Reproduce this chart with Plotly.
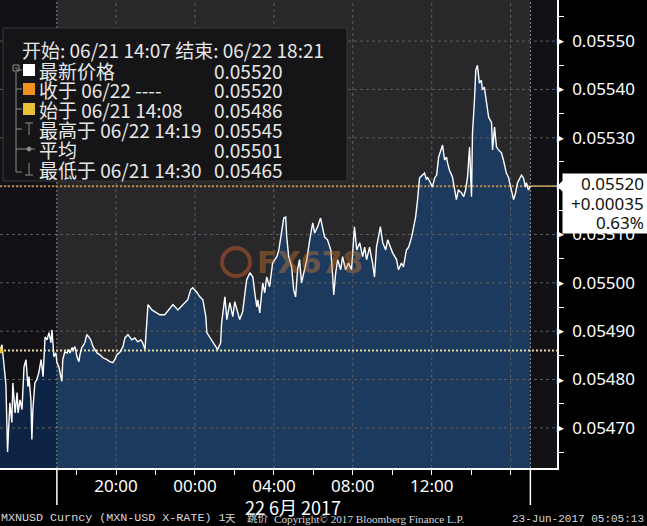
import plotly.graph_objects as go

# ---------------- data ----------------
times = [
"06-21 14:07","06-21 14:13","06-21 14:19","06-21 14:25","06-21 14:30","06-21 14:37","06-21 14:43","06-21 14:46",
"06-21 14:53","06-21 14:59","06-21 15:02","06-21 15:08","06-21 15:14","06-21 15:20","06-21 15:26","06-21 15:32",
"06-21 15:35","06-21 15:41","06-21 15:44","06-21 15:47","06-21 15:53","06-21 15:59","06-21 16:05","06-21 16:12",
"06-21 16:18","06-21 16:21","06-21 16:24","06-21 16:30","06-21 16:36","06-21 16:42","06-21 16:45","06-21 16:48",
"06-21 16:51","06-21 16:57","06-21 17:00","06-21 17:06","06-21 17:12","06-21 17:15","06-21 17:18","06-21 17:24",
"06-21 17:31","06-21 17:34","06-21 17:40","06-21 17:46","06-21 17:49","06-21 17:55","06-21 18:01","06-21 18:07",
"06-21 18:10","06-21 18:16","06-21 18:25","06-21 18:31","06-21 18:37","06-21 18:43","06-21 18:50","06-21 19:02",
"06-21 19:11","06-21 19:20","06-21 19:32","06-21 19:41","06-21 19:50","06-21 19:56","06-21 20:02","06-21 20:12",
"06-21 20:21","06-21 20:27","06-21 20:36","06-21 20:48","06-21 20:57","06-21 21:06","06-21 21:15","06-21 21:21",
"06-21 21:28","06-21 21:34","06-21 21:37","06-21 21:49","06-21 21:58","06-21 22:13","06-21 22:28","06-21 22:43",
"06-21 22:53","06-21 23:08","06-21 23:23","06-21 23:38","06-21 23:47","06-21 23:53","06-22 00:05","06-22 00:15",
"06-22 00:24","06-22 00:33","06-22 00:36","06-22 00:45","06-22 00:54","06-22 01:03","06-22 01:09","06-22 01:18",
"06-22 01:21","06-22 01:31","06-22 01:37","06-22 01:46","06-22 01:55","06-22 02:01","06-22 02:07","06-22 02:16",
"06-22 02:25","06-22 02:31","06-22 02:37","06-22 02:47","06-22 02:56","06-22 03:02","06-22 03:08","06-22 03:11",
"06-22 03:17","06-22 03:26","06-22 03:32","06-22 03:38","06-22 03:47","06-22 03:56","06-22 04:09","06-22 04:15",
"06-22 04:24","06-22 04:30","06-22 04:36","06-22 04:39","06-22 04:45","06-22 04:54","06-22 05:00","06-22 05:06",
"06-22 05:12","06-22 05:18","06-22 05:24","06-22 05:34","06-22 05:40","06-22 05:49","06-22 05:58","06-22 06:04",
"06-22 06:13","06-22 06:22","06-22 06:28","06-22 06:34","06-22 06:43","06-22 06:53","06-22 06:59","06-22 07:02",
"06-22 07:08","06-22 07:14","06-22 07:23","06-22 07:29","06-22 07:38","06-22 07:47","06-22 07:56","06-22 08:02",
"06-22 08:05","06-22 08:12","06-22 08:21","06-22 08:30","06-22 08:36","06-22 08:42","06-22 08:51","06-22 09:00",
"06-22 09:06","06-22 09:12","06-22 09:24","06-22 09:31","06-22 09:40","06-22 09:46","06-22 09:55","06-22 10:01",
"06-22 10:13","06-22 10:19","06-22 10:28","06-22 10:34","06-22 10:43","06-22 10:50","06-22 10:59","06-22 11:05",
"06-22 11:11","06-22 11:17","06-22 11:20","06-22 11:23","06-22 11:32","06-22 11:38","06-22 11:44","06-22 11:47",
"06-22 11:56","06-22 12:02","06-22 12:09","06-22 12:15","06-22 12:21","06-22 12:30","06-22 12:33","06-22 12:39",
"06-22 12:45","06-22 12:48","06-22 12:54","06-22 13:03","06-22 13:09","06-22 13:15","06-22 13:21","06-22 13:31",
"06-22 13:37","06-22 13:43","06-22 13:49","06-22 13:55","06-22 14:01","06-22 14:04","06-22 14:10","06-22 14:14",
"06-22 14:19","06-22 14:25","06-22 14:31","06-22 14:34","06-22 14:40","06-22 14:47","06-22 14:53","06-22 15:02",
"06-22 15:05","06-22 15:11","06-22 15:17","06-22 15:23","06-22 15:32","06-22 15:38","06-22 15:47","06-22 15:53",
"06-22 16:02","06-22 16:09","06-22 16:15","06-22 16:21","06-22 16:33","06-22 16:39","06-22 16:45","06-22 16:48",
"06-22 16:54","06-22 17:00",
]
prices = [
0.054860,0.054872,0.054831,0.054789,0.054650,0.054752,0.054711,0.054793,
0.054731,0.054773,0.054731,0.054758,0.054738,0.054826,0.054841,0.054785,
0.054806,0.054758,0.054676,0.054738,0.054793,0.054800,0.054814,0.054841,
0.054806,0.054855,0.054888,0.054882,0.054897,0.054876,0.054903,0.054876,
0.054847,0.054855,0.054835,0.054826,0.054806,0.054796,0.054841,0.054857,
0.054855,0.054862,0.054855,0.054866,0.054862,0.054868,0.054847,0.054837,
0.054851,0.054866,0.054876,0.054893,0.054888,0.054882,0.054868,0.054855,
0.054851,0.054845,0.054841,0.054837,0.054835,0.054841,0.054851,0.054857,
0.054868,0.054886,0.054893,0.054882,0.054886,0.054878,0.054882,0.054876,
0.054862,0.054938,0.054955,0.054944,0.054940,0.054934,0.054934,0.054948,
0.054955,0.054944,0.054955,0.054965,0.054986,0.054990,0.054981,0.054971,
0.054965,0.054930,0.054897,0.054888,0.054878,0.054868,0.054862,0.054876,
0.054917,0.054971,0.054924,0.054959,0.054930,0.054961,0.054948,0.054924,
0.054940,0.054971,0.055006,0.055021,0.055012,0.054979,0.054950,0.054965,
0.054938,0.055000,0.054979,0.055012,0.054992,0.055041,0.055054,0.055068,
0.055110,0.055134,0.055136,0.055095,0.055054,0.055033,0.054986,0.054971,
0.055027,0.055048,0.055000,0.055027,0.055048,0.055089,0.055124,0.055103,
0.055116,0.055134,0.055116,0.055095,0.055089,0.055068,0.055012,0.054975,
0.055021,0.055048,0.055027,0.055054,0.055027,0.055041,0.055027,0.055083,
0.055116,0.055068,0.055083,0.055054,0.055074,0.055048,0.055074,0.055041,
0.055012,0.055074,0.055116,0.055083,0.055068,0.055089,0.055074,0.055062,
0.055048,0.055027,0.055041,0.055033,0.055068,0.055074,0.055095,0.055116,
0.055136,0.055172,0.055207,0.055217,0.055223,0.055227,0.055213,0.055219,
0.055207,0.055198,0.055217,0.055223,0.055260,0.055279,0.055285,0.055254,
0.055260,0.055248,0.055233,0.055219,0.055198,0.055172,0.055192,0.055186,
0.055178,0.055192,0.055219,0.055281,0.055178,0.055310,0.055378,0.055440,
0.055450,0.055413,0.055419,0.055399,0.055405,0.055372,0.055343,0.055331,
0.055275,0.055322,0.055281,0.055275,0.055269,0.055254,0.055227,0.055219,
0.055192,0.055172,0.055186,0.055207,0.055223,0.055217,0.055198,0.055207,
0.055192,0.055200,
]
year = "2017"

y_ticks = [0.05470, 0.05480, 0.05490, 0.05500, 0.05510, 0.05520, 0.05530, 0.05540, 0.05550]
y_minor = [0.05465, 0.05475, 0.05485, 0.05495, 0.05505, 0.05515, 0.05525, 0.05535, 0.05545, 0.05555]
y_range = [0.054617, 0.055585]
x_range = ["2017-06-21 14:07", "2017-06-22 18:21"]
x_ticks = ["2017-06-21 20:00", "2017-06-22 00:00", "2017-06-22 04:00",
           "2017-06-22 08:00", "2017-06-22 12:00", "2017-06-22 16:00"]
x_tick_text = ["20:00", "00:00", "04:00", "08:00", "12:00", ""]
x_minor = ["2017-06-21 18:00", "2017-06-21 22:00", "2017-06-22 02:00",
           "2017-06-22 06:00", "2017-06-22 10:00", "2017-06-22 14:00"]
session_bounds = ["2017-06-21 17:00", "2017-06-22 17:00"]
date_label = "22 6月 2017"

header_text = "开始: 06/21 14:07 结束: 06/22 18:21"
summary_labels = ["最新价格", "收于 06/22 ----", "始于 06/21 14:08",
                  "最高于 06/22 14:19", "平均", "最低于 06/21 14:30"]
summary_values = [0.05520, 0.05520, 0.05486, 0.05545, 0.05501, 0.05465]
open_price = 0.05486
close_price = 0.05520
last_box = ["0.05520", "+0.00035", "0.63%"]
footer_parts = ["MXNUSD Curncy (MXN-USD X-RATE) 1", "天", "跳价"]
footer_mid = "Copyright© 2017 Bloomberg Finance L.P."
footer_right = "23-Jun-2017 05:05:13"
watermark = "FX678"

# ---------------- layout helpers ----------------
W, H = 647, 526
ML, MR, MT, MB = 0, 90, 0, 58
PW, PH = W - ML - MR, H - MT - MB


def pxx(x):
    return x / PW


def pxy(y):
    return 1 - y / PH


xs = [year + "-" + t for t in times]
split = times.index("06-21 17:00")

FONT = "Noto Sans, Noto Sans CJK SC, sans-serif"
CJK = "Noto Sans CJK SC, Noto Sans, sans-serif"
GRID = "#5e5e60"
TXT = "#e8e8e8"
FOOT = "#d8d8d8"

fig = go.Figure()

# fills (darker before session start)
fig.add_trace(go.Scatter(x=xs[:split + 1], y=prices[:split + 1], mode="lines",
                         line=dict(width=0), fill="tozeroy", fillcolor="#0e2444",
                         hoverinfo="skip", showlegend=False))
fig.add_trace(go.Scatter(x=xs[split:], y=prices[split:], mode="lines",
                         line=dict(width=0), fill="tozeroy", fillcolor="#1b3a5e",
                         hoverinfo="skip", showlegend=False))

# grid lines (drawn above the fill, below the price line)
gx, gy = [], []
for v in y_ticks:
    gx += [x_range[0], x_range[1], None]
    gy += [v, v, None]
for t in x_ticks:
    gx += [t, t, None]
    gy += [y_range[0], y_range[1], None]
fig.add_trace(go.Scatter(x=gx, y=gy, mode="lines", line=dict(color=GRID, width=1, dash="3px,3px"),
                         hoverinfo="skip", showlegend=False))
bx, by = [], []
for t in session_bounds:
    bx += [t, t, None]
    by += [y_range[0], y_range[1], None]
fig.add_trace(go.Scatter(x=bx, y=by, mode="lines", line=dict(color="#8a8a8c", width=1, dash="2px,2px"),
                         hoverinfo="skip", showlegend=False))

# open / close reference lines
fig.add_trace(go.Scatter(x=x_range, y=[open_price, open_price], mode="lines",
                         line=dict(color="#e6dca0", width=2, dash="2px,2px"),
                         hoverinfo="skip", showlegend=False))
fig.add_trace(go.Scatter(x=[x_range[0], session_bounds[1]], y=[close_price, close_price], mode="lines",
                         line=dict(color="#b8874a", width=2, dash="2px,2px"),
                         hoverinfo="skip", showlegend=False))
fig.add_trace(go.Scatter(x=[session_bounds[1], x_range[1]], y=[close_price, close_price], mode="lines",
                         line=dict(color="#c8a868", width=1.5),
                         hoverinfo="skip", showlegend=False))

# price line
fig.add_trace(go.Scatter(x=xs, y=prices, mode="lines", line=dict(color="white", width=1.4),
                         hoverinfo="skip", showlegend=False))
fig.add_trace(go.Scatter(x=[xs[0]], y=[open_price], mode="markers",
                         marker=dict(color="#e8c83a", size=6), cliponaxis=False,
                         hoverinfo="skip", showlegend=False))

shapes = []
# backgrounds
shapes.append(dict(type="rect", xref="x", yref="paper", x0=session_bounds[0], x1=session_bounds[1],
                   y0=0, y1=1, fillcolor="#28282b", line=dict(width=0), layer="below"))
# session boundary extensions below axis
for t in session_bounds:
    shapes.append(dict(type="line", xref="x", yref="paper", x0=t, x1=t, y0=0, y1=pxy(505),
                       line=dict(color="white", width=1.5), layer="above"))
# legend box
shapes.append(dict(type="rect", xref="paper", yref="paper", x0=pxx(3), x1=pxx(347),
                   y0=pxy(181), y1=pxy(28), fillcolor="#151517",
                   line=dict(color="#3a3a3c", width=1), layer="above"))
# tree lines
TREE = "#8c8c8c"
shapes.append(dict(type="rect", xref="paper", yref="paper", x0=pxx(13), x1=pxx(19),
                   y0=pxy(71), y1=pxy(65), line=dict(color=TREE, width=1), fillcolor="#151517"))
shapes.append(dict(type="line", xref="paper", yref="paper", x0=pxx(14.5), x1=pxx(17.5),
                   y0=pxy(68), y1=pxy(68), line=dict(color=TREE, width=1)))
shapes.append(dict(type="line", xref="paper", yref="paper", x0=pxx(16), x1=pxx(16),
                   y0=pxy(72), y1=pxy(172), line=dict(color=TREE, width=1)))
for ry in [70, 89, 109, 129, 149, 172]:
    shapes.append(dict(type="line", xref="paper", yref="paper", x0=pxx(16), x1=pxx(22),
                       y0=pxy(ry), y1=pxy(ry), line=dict(color=TREE, width=1)))
# high / avg / low glyphs
shapes.append(dict(type="line", xref="paper", yref="paper", x0=pxx(25), x1=pxx(33),
                   y0=pxy(123), y1=pxy(123), line=dict(color=TREE, width=1)))
shapes.append(dict(type="line", xref="paper", yref="paper", x0=pxx(29), x1=pxx(29),
                   y0=pxy(123), y1=pxy(135), line=dict(color=TREE, width=1)))
shapes.append(dict(type="line", xref="paper", yref="paper", x0=pxx(22), x1=pxx(35),
                   y0=pxy(149), y1=pxy(149), line=dict(color=TREE, width=1)))
shapes.append(dict(type="circle", xref="paper", yref="paper", x0=pxx(27), x1=pxx(31),
                   y0=pxy(151), y1=pxy(147), line=dict(color=TREE, width=1), fillcolor=TREE))
shapes.append(dict(type="line", xref="paper", yref="paper", x0=pxx(29), x1=pxx(29),
                   y0=pxy(163), y1=pxy(175), line=dict(color=TREE, width=1)))
shapes.append(dict(type="line", xref="paper", yref="paper", x0=pxx(25), x1=pxx(33),
                   y0=pxy(175), y1=pxy(175), line=dict(color=TREE, width=1)))
# colour squares
for ry, col in [(70, "#ffffff"), (89, "#f0901e"), (109, "#e8c236")]:
    shapes.append(dict(type="rect", xref="paper", yref="paper", x0=pxx(23), x1=pxx(35),
                       y0=pxy(ry + 6), y1=pxy(ry - 6), fillcolor=col, line=dict(width=0)))
# watermark logo ring
shapes.append(dict(type="circle", xref="paper", yref="paper", x0=pxx(222), x1=pxx(250),
                   y0=pxy(276), y1=pxy(248), line=dict(color="rgba(215,95,45,0.45)", width=4)))
# notch of the last price box
shapes.append(dict(type="path", xref="paper", yref="y",
                   path="M 1.0,%f L 1.012,%f L 1.012,%f Z" % (close_price, close_price + 0.000013,
                                                             close_price - 0.000013),
                   fillcolor="white", line=dict(width=0)))

ann = []
# legend texts
ann.append(dict(x=pxx(21), y=pxy(50), xref="paper", yref="paper", xanchor="left", yanchor="middle",
                text=header_text, showarrow=False, borderpad=0, font=dict(family=CJK, size=19, color=TXT)))
for i, (lab, val) in enumerate(zip(summary_labels, summary_values)):
    ry = [70, 89, 109, 129, 149, 169][i]
    ann.append(dict(x=pxx(38), y=pxy(ry), xref="paper", yref="paper", xanchor="left", yanchor="middle",
                    text=lab, showarrow=False, borderpad=0, font=dict(family=CJK, size=19, color=TXT)))
    ann.append(dict(x=pxx(213), y=pxy(ry), xref="paper", yref="paper", xanchor="left", yanchor="middle",
                    text="%.5f" % val, showarrow=False, borderpad=0, font=dict(family=CJK, size=19, color=TXT)))
# axis triangles
for v in y_ticks:
    ann.append(dict(x=1, y=v, xref="paper", yref="y", xanchor="left", yanchor="middle", xshift=-2,
                    text="▶", showarrow=False, font=dict(family="DejaVu Sans", size=9, color="white")))
# last price box (annotation so that it sits above the axis labels)
ann.append(dict(x=pxx(562), y=pxy(173), xref="paper", yref="paper", xanchor="left", yanchor="top",
                text=" ", showarrow=False, bgcolor="white", width=85, height=59, borderpad=0,
                font=dict(family=FONT, size=10, color="white")))
for line_txt, ry in zip(last_box, [184, 203, 222]):
    ann.append(dict(x=pxx(645), y=pxy(ry), xref="paper", yref="paper", xanchor="right", yanchor="middle",
                    text=line_txt, showarrow=False, borderpad=0,
                    font=dict(family=FONT, size=17, color="#111")))
# date label
ann.append(dict(x=pxx(293), y=pxy(507), xref="paper", yref="paper", xanchor="center", yanchor="middle",
                text=date_label, showarrow=False, borderpad=0, font=dict(family=CJK, size=18, color="white")))
# footer
FOOT_Y = pxy(526)
ann.append(dict(x=0, y=FOOT_Y, xref="paper", yref="paper", xanchor="left", yanchor="bottom",
                text=footer_parts[0], showarrow=False, borderpad=0,
                font=dict(family="Liberation Mono, monospace", size=11.7, color=FOOT)))
ann.append(dict(x=pxx(224), y=FOOT_Y, xref="paper", yref="paper", xanchor="left", yanchor="bottom",
                text=footer_parts[1], showarrow=False, borderpad=0,
                font=dict(family=CJK, size=10.5, color=FOOT)))
ann.append(dict(x=pxx(246), y=FOOT_Y, xref="paper", yref="paper", xanchor="left", yanchor="bottom",
                text=footer_parts[2], showarrow=False, borderpad=0,
                font=dict(family=CJK, size=10.5, color=FOOT)))
ann.append(dict(x=pxx(273), y=FOOT_Y, xref="paper", yref="paper", xanchor="left", yanchor="bottom",
                text=footer_mid, showarrow=False, borderpad=0,
                font=dict(family="Liberation Serif, serif", size=11.2, color=FOOT)))
ann.append(dict(x=pxx(645), y=FOOT_Y, xref="paper", yref="paper", xanchor="right", yanchor="bottom",
                text=footer_right, showarrow=False, borderpad=0,
                font=dict(family="Liberation Mono, monospace", size=11, color=FOOT)))
# watermark
ann.append(dict(x=pxx(255), y=pxy(262), xref="paper", yref="paper", xanchor="left", yanchor="middle",
                text="<b>" + watermark + "</b>", showarrow=False,
                font=dict(family="DejaVu Sans", size=30, color="rgba(225,130,45,0.40)")))

# tick label under the last price box is hidden by the box in the original
y_tick_text = ["" if abs(v - close_price) < 1e-9 else "%.5f" % v for v in y_ticks]

fig.update_layout(
    width=W, height=H,
    margin=dict(l=ML, r=MR, t=MT, b=MB),
    paper_bgcolor="#000000", plot_bgcolor="#121216",
    showlegend=False,
    shapes=shapes, annotations=ann,
    xaxis=dict(type="date", range=x_range, tickmode="array", tickvals=x_ticks, ticktext=x_tick_text,
               ticks="outside", ticklen=5, tickcolor="white", showgrid=False, zeroline=False,
               showline=True, linecolor="white", linewidth=1.5, ticklabelstandoff=-3,
               tickfont=dict(family=FONT, size=17, color="white"),
               minor=dict(tickmode="array", tickvals=x_minor, ticks="outside", ticklen=5,
                          tickcolor="white", showgrid=False)),
    yaxis=dict(side="right", range=y_range, tickmode="array", tickvals=y_ticks,
               ticktext=y_tick_text, ticks="", showgrid=False, zeroline=False,
               showline=True, linecolor="white", linewidth=1.5, ticklabelstandoff=10,
               tickfont=dict(family=FONT, size=17, color="white"),
               minor=dict(tickmode="array", tickvals=y_minor, ticks="outside", ticklen=5,
                          tickcolor="white", showgrid=False)),
)

fig.write_html("out.html", config={"displayModeBar": False},
               post_script="document.body.style.margin='0';document.body.style.overflow='hidden';")
